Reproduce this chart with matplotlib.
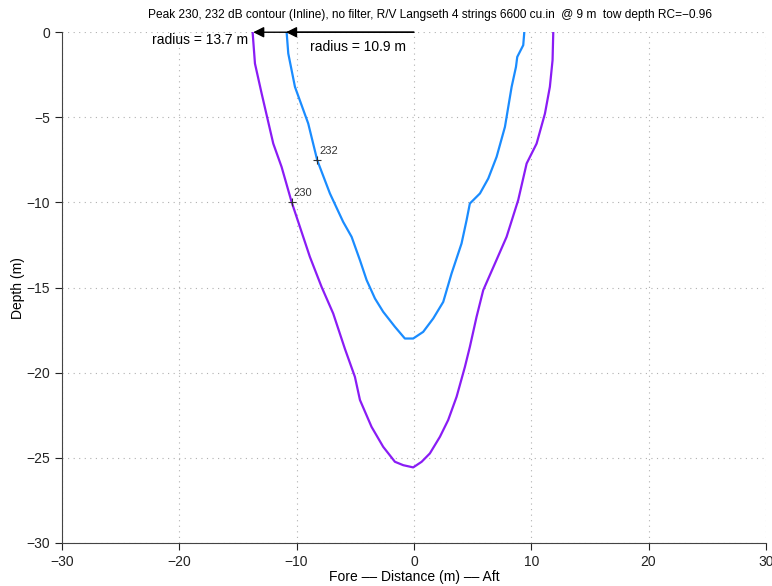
import matplotlib
matplotlib.use("Agg")
import matplotlib.pyplot as plt

plt.rcParams['font.family'] = ['Liberation Sans', 'DejaVu Sans']

# 232 dB contour (distance in m, depth in m)
x232 = [-10.85, -10.71, -10.14, -9.01, -8.24, -7.16, -6.03, -5.31, -4.60, -4.03,
        -3.32, -2.62, -1.62, -0.77, -0.06, 0.79, 1.65, 2.50, 3.21, 4.06,
        4.49, 4.77, 5.63, 6.34, 7.05, 7.76, 8.33, 8.70, 8.81, 9.32, 9.41]
y232 = [0.0, -1.25, -3.21, -5.36, -7.52, -9.47, -11.14, -12.02, -13.39, -14.56,
        -15.64, -16.42, -17.30, -17.99, -17.99, -17.60, -16.81, -15.84, -14.17, -12.41,
        -11.04, -10.06, -9.47, -8.59, -7.32, -5.56, -3.21, -2.04, -1.45, -0.76, 0.0]

# 230 dB contour
x230 = [-13.75, -13.55, -12.98, -11.99, -11.28, -10.43, -9.72, -8.87, -7.87, -6.88,
        -5.88, -5.03, -4.60, -3.61, -2.62, -1.62, -0.91, -0.06, 0.66, 1.36,
        2.22, 2.92, 3.64, 4.35, 4.77, 5.34, 5.91, 6.91, 7.90, 8.89,
        9.61, 10.46, 11.17, 11.59, 11.82, 11.88]
y230 = [0.0, -1.84, -3.60, -6.54, -7.91, -9.96, -11.43, -13.19, -14.96, -16.52,
        -18.60, -20.24, -21.60, -23.18, -24.35, -25.23, -25.43, -25.56, -25.23, -24.74,
        -23.76, -22.78, -21.41, -19.65, -18.48, -16.72, -15.15, -13.58, -12.02, -9.86,
        -7.71, -6.54, -4.78, -3.21, -1.64, 0.0]

radii = [13.7, 10.9]
levels = ['230', '232']
label_pts = [(-10.43, -9.96), (-8.24, -7.52)]
ticks = [-30, -20, -10, 0, 10, 20, 30]
yticks = [-30, -25, -20, -15, -10, -5, 0]

title = ("Peak 230, 232 dB contour (Inline), no filter, R/V Langseth 4 strings 6600 cu.in"
         "  @ 9 m  tow depth RC=\u22120.96")

fig = plt.figure(figsize=(7.72, 5.86), dpi=100)
ax = fig.add_axes([0.0803, 0.0734, 0.9117, 0.8716])

ax.plot(x232, y232, color='#1A8CFF', lw=1.6, zorder=3)
ax.plot(x230, y230, color='#8A1CF5', lw=1.6, zorder=3)

# contour level labels
for (lx, ly), lab in zip(label_pts, levels):
    ax.plot(lx, ly, marker='+', color='#333333', ms=6, mew=0.8, zorder=4)
    ax.text(lx + 0.2, ly + 0.25, lab, fontsize=8, color='#333333', ha='left', va='bottom', zorder=5)

# radius arrows from the source position
for r in radii:
    ax.annotate('', xy=(-r, 0), xytext=(0, 0),
                arrowprops=dict(arrowstyle='-|>', color='k', lw=1.0,
                                mutation_scale=16, shrinkA=0, shrinkB=0),
                annotation_clip=False, zorder=6)
ax.text(-radii[0] - 0.4, -0.45, f'radius = {radii[0]} m', fontsize=10, ha='right', va='center')
ax.text(-4.8, -0.85, f'radius = {radii[1]} m', fontsize=10, ha='center', va='center')

ax.set_xlim(-30, 30)
ax.set_ylim(-30, 0)
ax.set_xticks(ticks)
ax.set_yticks(yticks)
ax.tick_params(direction='out', length=5, width=0.8, labelsize=10, colors='#222222')
ax.grid(True, linestyle=(0, (1, 4)), color='#b0b0b0', lw=0.8)
for s in ['top', 'right']:
    ax.spines[s].set_visible(False)
for s in ['left', 'bottom']:
    ax.spines[s].set_color('#444444')
    ax.spines[s].set_linewidth(0.8)

ax.set_xlabel('Fore \u2013\u2013 Distance (m) \u2013\u2013 Aft', fontsize=10, labelpad=1)
ax.set_ylabel('Depth (m)', fontsize=10, labelpad=1)
fig.text(0.557, 0.985, title, fontsize=8.6, ha='center', va='top')

fig.savefig('out.png', dpi=100)
